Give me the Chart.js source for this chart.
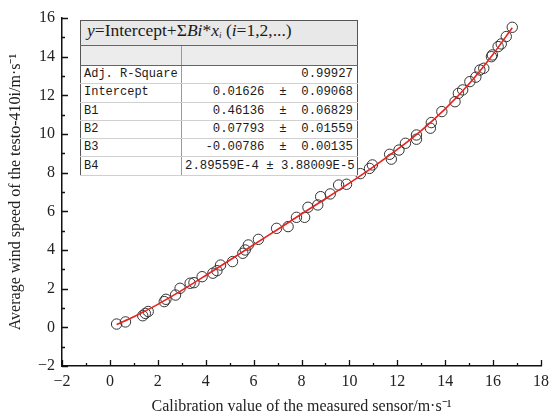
<!DOCTYPE html>
<html>
<head>
<meta charset="utf-8">
<script src="https://cdn.jsdelivr.net/npm/chart.js@4.4.1/dist/chart.umd.min.js"></script>
<style>
  html, body { margin: 0; padding: 0; background: #fff; }
  #wrap { position: relative; width: 555px; height: 419px; }
  #chart { position: absolute; left: 0; top: 0; }
  #fit-table {
    position: absolute; left: 80px; top: 20px; width: 277px;
    border-collapse: collapse; table-layout: fixed;
    border: 1.5px solid #555; background: #fff; color: #1a1a1a;
    font-family: "Liberation Mono", "DejaVu Sans Mono", monospace; font-size: 12.3px;
  }
  #fit-table td { padding: 0 3px; height: 17.3px; line-height: 17px; white-space: nowrap; overflow: hidden; border-bottom: 1px solid #d0d0d0; }
  #fit-table td.lbl { border-right: 1px solid #9a9a9a; font-size: 12px; }
  #fit-table td.val { text-align: right; padding-right: 4px; }
  #fit-table tr.eq td {
    height: 19px; line-height: 19px; background: #e8e8e8; border-bottom: 1.5px solid #666;
    font-family: "Liberation Serif", "Times New Roman", serif; font-size: 17.5px; padding-left: 6px;
  }
  #fit-table tr.blank td { height: 19px; background: #ececec; border-bottom: 1.5px solid #666; }
  #fit-table i { font-style: italic; }
  #fit-table sub { font-size: 9px; vertical-align: -2px; }
</style>
</head>
<body>
<div id="wrap">
  <canvas id="chart" width="555" height="419"></canvas>
  <table id="fit-table"></table>
</div>
<script>
// measured points: calibration sensor (x) vs testo-410i (y)
const sensorX = [0.28, 0.65, 1.37, 1.48, 1.6, 2.27, 2.34, 2.74, 2.93, 3.35, 3.51, 3.85, 4.3, 4.47, 4.62,
  5.12, 5.55, 5.65, 5.78, 6.2, 6.96, 7.44, 7.79, 8.13, 8.27, 8.68, 8.8, 9.2, 9.55, 9.88, 10.46, 10.84,
  10.96, 11.68, 11.75, 12.07, 12.34, 12.8, 12.8, 13.38, 13.42, 13.86, 14.41, 14.55, 14.73, 15.03, 15.28,
  15.45, 15.61, 15.93, 15.97, 16.21, 16.34, 16.55, 16.8];
const testoY = [0.17, 0.28, 0.6, 0.72, 0.82, 1.33, 1.45, 1.67, 2.02, 2.28, 2.31, 2.62, 2.8, 2.93, 3.22,
  3.4, 3.83, 4.0, 4.26, 4.55, 5.12, 5.21, 5.69, 5.69, 6.21, 6.33, 6.76, 6.9, 7.36, 7.4, 7.95, 8.22,
  8.4, 8.95, 8.7, 9.17, 9.52, 9.95, 9.73, 10.3, 10.59, 11.16, 11.67, 12.1, 12.28, 12.71, 12.94,
  13.31, 13.4, 14.0, 14.09, 14.52, 14.66, 15.04, 15.52];

// red fitted curve
const fitX = [0.28, 1, 2, 3, 4, 5, 6, 7, 8, 9, 10, 11, 12, 13, 14, 15, 16, 16.8];
const fitY = [0.15, 0.55, 1.19, 1.91, 2.68, 3.47, 4.27, 5.06, 5.86, 6.65, 7.46, 8.3, 9.2, 10.18, 11.3, 12.6, 14.13, 15.5];

const xRange = [-2, 18];
const yRange = [-2, 16];

const tableLabels = ['Adj. R-Square', 'Intercept', 'B1', 'B2', 'B3', 'B4'];
const tableValues = ['0.99927', '0.01626  ±  0.09068', '0.46136  ±  0.06829', '0.07793  ±  0.01559',
  '-0.00786  ±  0.00135', '2.89559E-4 ± 3.88009E-5'];

function buildTable() {
  const table = document.getElementById('fit-table');
  let html = '<colgroup><col style="width:101px"><col style="width:176px"></colgroup>';
  html += '<tr class="eq"><td colspan="2"><i>y</i>=Intercept+\u03a3<i>Bi</i>*<i>x<sub>i</sub></i> (<i>i</i>=1,2,...)</td></tr>';
  html += '<tr class="blank"><td class="lbl"></td><td></td></tr>';
  for (let i = 0; i < tableLabels.length; i++) {
    html += '<tr><td class="lbl">' + tableLabels[i] + '</td><td class="val">' +
      tableValues[i].replace(/ /g, '&nbsp;') + '</td></tr>';
  }
  table.innerHTML = html;
}

// origin style ticks: pointing inward, minor ones at odd values
const innerTicks = {
  id: 'innerTicks',
  afterDraw(chart) {
    const ctx = chart.ctx;
    const xs = chart.scales.x;
    const ys = chart.scales.y;
    const left = chart.chartArea.left;
    const bottom = chart.chartArea.bottom;
    ctx.save();
    ctx.strokeStyle = '#111';
    ctx.lineWidth = 1.3;
    ctx.beginPath();
    for (let v = xRange[0]; v <= xRange[1]; v++) {
      const px = Math.round(xs.getPixelForValue(v)) + 0.5;
      const len = v % 2 === 0 ? 6 : 3;
      ctx.moveTo(px, bottom);
      ctx.lineTo(px, bottom - len);
    }
    for (let v = yRange[0]; v <= yRange[1]; v++) {
      const py = Math.round(ys.getPixelForValue(v)) + 0.5;
      const len = v % 2 === 0 ? 6 : 3;
      ctx.moveTo(left, py);
      ctx.lineTo(left + len, py);
    }
    ctx.stroke();
    ctx.restore();
  }
};

const serif = { family: '"Liberation Serif", "Times New Roman", serif', size: 16 };

function minusSign(value) {
  return String(value).replace('-', '\u2212');
}

new Chart(document.getElementById('chart'), {
  type: 'scatter',
  data: {
    datasets: [
      {
        type: 'line',
        data: fitX.map((x, i) => ({ x: x, y: fitY[i] })),
        borderColor: '#e8231f',
        borderWidth: 1.6,
        pointRadius: 0,
        tension: 0.4,
        cubicInterpolationMode: 'monotone',
        order: 0,
      },
      {
        data: sensorX.map((x, i) => ({ x: x, y: testoY[i] })),
        borderColor: '#333',
        backgroundColor: 'rgba(0,0,0,0)',
        borderWidth: 1,
        pointRadius: 5.2,
        order: 1,
      },
    ],
  },
  options: {
    responsive: false,
    animation: false,
    events: [],
    layout: { padding: { top: 18, right: 10, left: 0, bottom: 0 } },
    plugins: { legend: { display: false }, tooltip: { enabled: false } },
    scales: {
      x: {
        type: 'linear',
        min: xRange[0],
        max: xRange[1],
        ticks: { stepSize: 2, color: '#222', font: serif, padding: 6, maxRotation: 0, callback: minusSign },
        grid: { display: false, drawTicks: false },
        border: { display: true, color: '#111', width: 1.5 },
        title: {
          display: true,
          text: 'Calibration value of the measured sensor/m\u00b7s\u207b\u00b9',
          color: '#222',
          font: serif,
          padding: { top: 4, bottom: 3 },
        },
        afterFit(scale) { scale.height = 53; },
      },
      y: {
        type: 'linear',
        min: yRange[0],
        max: yRange[1],
        ticks: { stepSize: 2, color: '#222', font: serif, padding: 7, callback: minusSign },
        grid: { display: false, drawTicks: false },
        border: { display: true, color: '#111', width: 1.5 },
        title: {
          display: true,
          text: 'Average wind speed of the testo-410i/m\u00b7s\u207b\u00b9',
          color: '#222',
          font: serif,
          padding: { top: 6, bottom: 2 },
        },
        afterFit(scale) { scale.width = 62; },
      },
    },
  },
  plugins: [innerTicks],
});

buildTable();
</script>
</body>
</html>
